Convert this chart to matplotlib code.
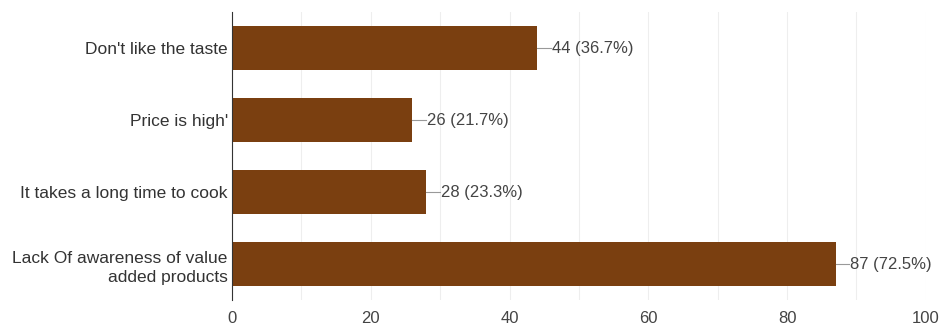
import matplotlib.pyplot as plt

categories = ["Don't like the taste", "Price is high'", "It takes a long time to cook",
              "Lack Of awareness of value\nadded products"]
counts = [44, 26, 28, 87]
percents = [36.7, 21.7, 23.3, 72.5]
xticks = [0, 20, 40, 60, 80, 100]

plt.rcParams['font.family'] = ['Liberation Sans', 'DejaVu Sans']

fig = plt.figure(figsize=(9.42, 3.29), dpi=100)
ax = fig.add_axes([0.2463, 0.088, 0.7365, 0.8755])

ypos = list(range(len(categories)))
ax.barh(ypos, counts, height=0.62, color='#7a3f10', zorder=2)

for y, c, p in zip(ypos, counts, percents):
    ax.plot([c, c + 2], [y, y], color='#999999', lw=0.8, zorder=2)
    ax.text(c + 2.1, y, f"{c} ({p}%)", va='center', ha='left', fontsize=12, color='#444444')

ax.set_xlim(0, 100)
ax.set_ylim(3.5, -0.5)
ax.set_yticks(ypos)
ax.set_yticklabels(categories, fontsize=12.5, color='#333333', linespacing=1.35)
ax.set_xticks(xticks)
ax.set_xticklabels([str(t) for t in xticks], fontsize=12, color='#444444')
ax.set_xticks(range(0, 101, 10), minor=True)
ax.grid(axis='x', which='both', color='#eeeeee', lw=0.8, zorder=0)
ax.tick_params(length=0, which='both', pad=3)
ax.tick_params(axis='x', pad=8)
for s in ['top', 'right', 'bottom']:
    ax.spines[s].set_visible(False)
ax.spines['left'].set_color('#333333')

fig.savefig('out.png', dpi=100)
